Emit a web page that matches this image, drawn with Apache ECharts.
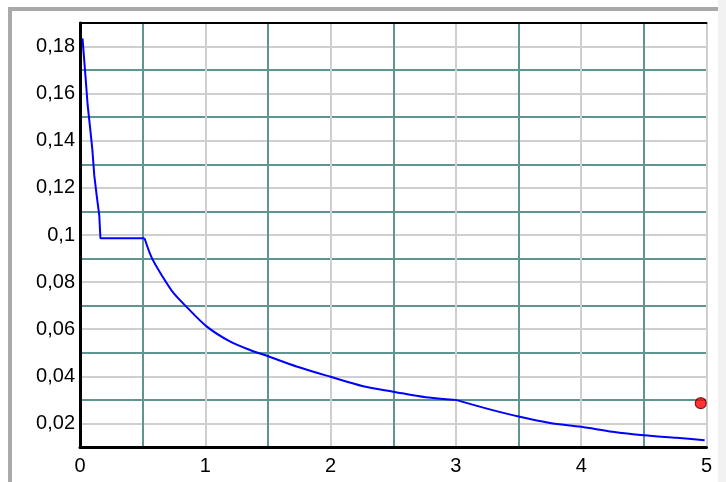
<!DOCTYPE html>
<html>
<head>
<meta charset="utf-8">
<script src="https://cdn.jsdelivr.net/npm/echarts@6/dist/echarts.min.js"></script>
<style>
  html, body { margin: 0; padding: 0; background: #ffffff; }
  #chart { width: 726px; height: 482px; }
</style>
</head>
<body>
<div id="chart"></div>
<script>
// Period values (x) and spectrum values (y)
// Steep branch and plateau (straight segments)
var periodsA = [0.02, 0.045, 0.061, 0.08, 0.098, 0.114, 0.133, 0.154, 0.163, 0.515];
var spectrumA = [0.1835, 0.1665, 0.1552, 0.1458, 0.1366, 0.1253, 0.1168, 0.1082, 0.0986, 0.0986];
// Descending branch (smooth curve)
var periodsB = [0.515, 0.572, 0.664, 0.744, 0.85, 1.01, 1.196, 1.356, 1.502, 1.728, 2.0,
  2.26, 2.5, 2.76, 3.0];
var spectrumB = [0.0986, 0.0904, 0.0819, 0.0755, 0.0695, 0.0612, 0.0548, 0.0512, 0.0485, 0.0442, 0.0398,
  0.0358, 0.0335, 0.0311, 0.0300];
var periodsC = [3.0, 3.24, 3.51, 3.75, 4.0, 4.25, 4.5, 4.76, 4.985];
var spectrumC = [0.0300, 0.0264, 0.0228, 0.0202, 0.0186, 0.0165, 0.0150, 0.0139, 0.0129];
var markerPoint = [4.954, 0.0286];
var xTickLabels = ['0', '1', '2', '3', '4', '5'];

var gray = '#cfcfcf';
var teal = '#5e9591';

function pairs(xs, ys) { return xs.map(function (t, i) { return [t, ys[i]]; }); }

var chart = echarts.init(document.getElementById('chart'), null, { renderer: 'canvas' });
chart.setOption({
  animation: false,
  backgroundColor: '#ffffff',
  grid: { left: 80, right: 19.5, top: 23, bottom: 35, containLabel: false },
  graphic: [
    { type: 'rect', shape: { x: 718, y: 0, width: 8, height: 482 }, style: { fill: '#f2f2f2' }, silent: true, z: -10 },
    { type: 'rect', shape: { x: 8, y: 7, width: 710, height: 4 }, style: { fill: '#a9a9a9' }, silent: true },
    { type: 'rect', shape: { x: 8, y: 7, width: 4, height: 475 }, style: { fill: '#a9a9a9' }, silent: true }
  ],
  xAxis: [{
    type: 'value', min: 0, max: 5, interval: 0.5, position: 'bottom',
    axisLine: { show: true, onZero: false, lineStyle: { color: '#000', width: 3 } },
    axisTick: { show: false },
    axisLabel: {
      margin: 9, color: '#000', fontFamily: 'Liberation Sans', fontSize: 20,
      formatter: function (v) {
        var r = Math.round(v * 2);
        return r % 2 === 0 ? xTickLabels[r / 2] : '';
      }
    },
    splitLine: { show: true, lineStyle: { color: [gray, teal], width: 2 } }
  }, {
    type: 'value', min: 0, max: 5, position: 'top',
    axisLine: { show: true, onZero: false, lineStyle: { color: '#000', width: 2 } },
    axisTick: { show: false }, axisLabel: { show: false }, splitLine: { show: false }
  }],
  yAxis: {
    type: 'value', min: 0.01, max: 0.19, interval: 0.01,
    axisLine: { show: true, onZero: false, lineStyle: { color: '#000', width: 3 } },
    axisTick: { show: false },
    axisLabel: {
      margin: 5, color: '#000', fontFamily: 'Liberation Sans', fontSize: 20,
      formatter: function (v) {
        var r = Math.round(v * 100);
        if (r % 2 !== 0) return '';
        return String(+(r / 100).toFixed(2)).replace('.', ',');
      }
    },
    splitLine: { show: true, lineStyle: { color: [teal, gray], width: 2 } }
  },
  series: [{
    type: 'line', data: pairs(periodsA, spectrumA), showSymbol: false, symbol: 'none',
    lineStyle: { color: '#0000ff', width: 2 }, z: 5
  }, {
    type: 'line', data: pairs(periodsB, spectrumB), showSymbol: false, symbol: 'none',
    smooth: 0.3,
    lineStyle: { color: '#0000ff', width: 2 }, z: 5
  }, {
    type: 'line', data: pairs(periodsC, spectrumC), showSymbol: false, symbol: 'none',
    smooth: 0.3,
    lineStyle: { color: '#0000ff', width: 2 }, z: 5
  }, {
    type: 'scatter', data: [markerPoint], symbol: 'circle', symbolSize: 11,
    itemStyle: { color: '#ff0000', borderColor: '#5a0000', borderWidth: 1.2 }, z: 6
  }]
});
</script>
</body>
</html>
